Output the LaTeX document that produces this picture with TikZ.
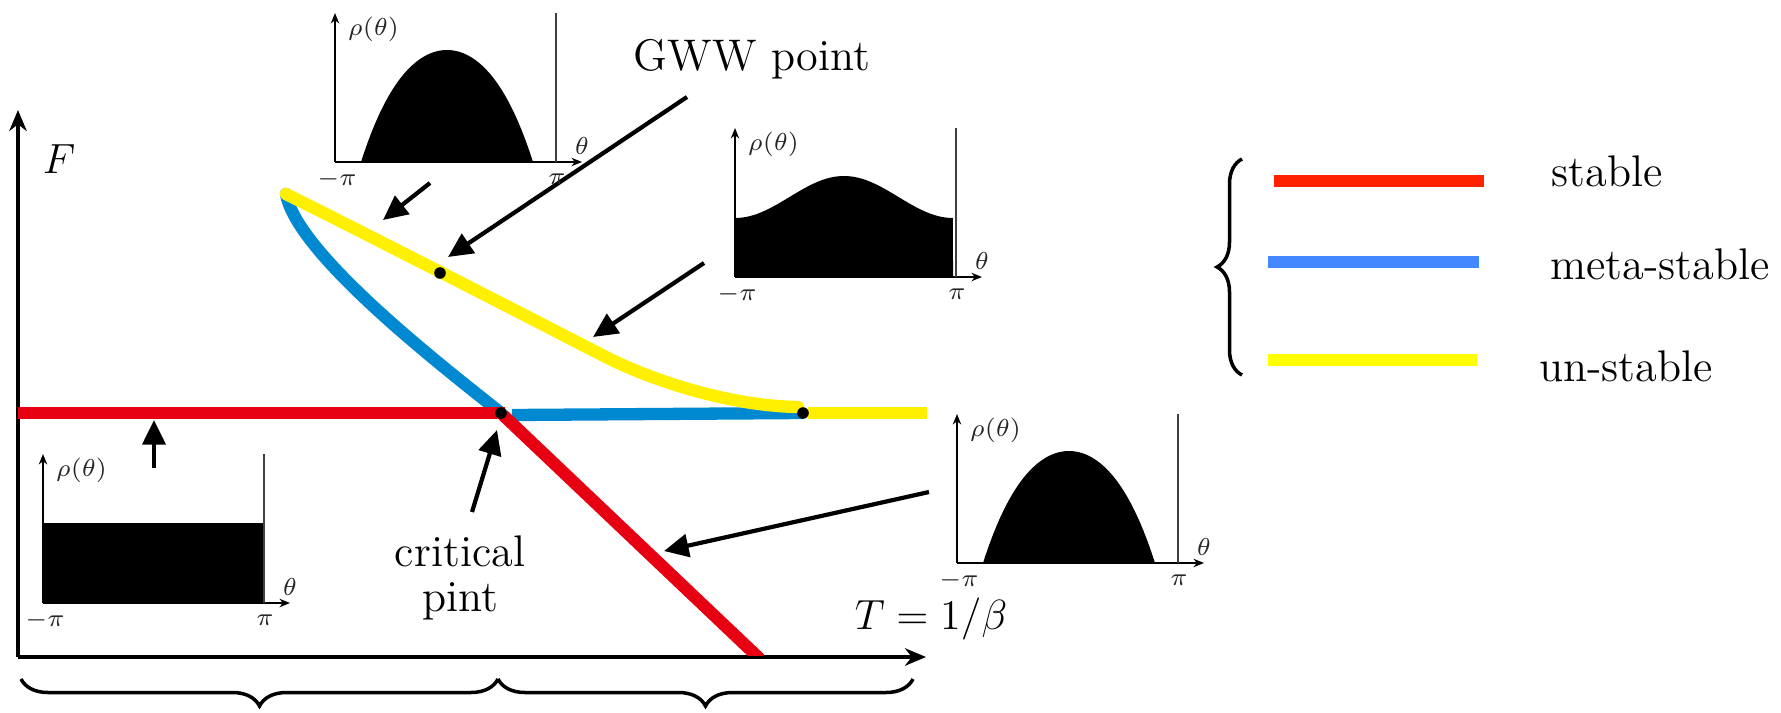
\documentclass[tikz,border=0pt]{standalone}
\usepackage{amssymb,amsmath}
\usepackage{tikz}
\usetikzlibrary{arrows.meta, calc, decorations.pathreplacing, positioning}
\definecolor{stabred}{RGB}{230,0,18}
\definecolor{metablue}{RGB}{0,136,209}
\definecolor{unstyellow}{RGB}{255,240,0}
\definecolor{legred}{RGB}{255,34,0}
\definecolor{legblue}{RGB}{68,136,255}
\definecolor{legyellow}{RGB}{255,255,0}
\tikzset{
  phase/.style={line width=3.5pt},
  pointer/.style={line width=1.2pt, -{Triangle[length=7pt,width=6.5pt]}},
  mainaxis/.style={line width=0.9pt, -{Stealth[length=6pt,width=5pt]}},
  insetaxis/.style={line width=0.45pt, -{Stealth[length=3pt,width=2.4pt]}},
  critdot/.style={circle, fill=black, inner sep=0pt, minimum size=3.3pt},
  bigtext/.style={font=\fontsize{12.6}{12.9}\selectfont},
  smalltext/.style={font=\fontsize{6.6}{7}\selectfont, text=black!85, inner sep=1pt},
  bracedeco/.style={decorate, line width=1pt},
}

\begin{document}
\begin{tikzpicture}
    \useasboundingbox (0,0) rectangle (17.81,7.12);
    % axes
    \coordinate (O) at (0.18,0.55);
    \coordinate (xend) at (9.26,0.55);
    \coordinate (yend) at (0.18,6.02);
    \draw[mainaxis] (O) -- (xend);
    \draw[mainaxis] (O) -- (yend);
    \node[bigtext] (Flab) at (0.59,5.53) {$F$};
    \node[bigtext] (Tlab) at (9.31,0.93) {$T=1/\beta$};
    % phases
    \coordinate (crit) at (5.01,2.99);
    \coordinate (tip) at (2.86,5.18);
    \coordinate (spin) at (8.03,2.99);
    \coordinate (gww) at (4.40,4.39);
    \draw[phase, metablue, line cap=round] (crit) .. controls (4.42,3.46) and (2.97,4.58) .. (tip);
    \draw[phase, metablue] (5.12,2.97) -- (spin);
    \draw[phase, unstyellow, line cap=round] (tip) .. controls (3.9,4.66) and (4.95,4.12) .. (6.0,3.58)
        .. controls (6.5,3.315) and (7.3,3.06) .. (7.98,3.05);
    \draw[phase, unstyellow] (8.08,2.99) -- (9.27,2.99);
    \draw[phase, stabred] (0.18,2.99) -- (5.05,2.99);
    \begin{scope}
        \clip (0,0.566) rectangle (10,3.5);
        \draw[phase, stabred] (5.03,2.97) -- (7.60,0.53);
    \end{scope}
    \foreach \p in {crit, gww, spin}
        \node[critdot] at (\p) {};
    % labels and pointers
    \node[bigtext] (gwwlab) at (7.52,6.53) {GWW point};
    \node[bigtext, align=center] (critlab) at (4.60,1.34) {critical\\pint};
    \coordinate (gwwtail) at (6.87,6.15);
    \coordinate (gwwhead) at (4.48,4.55);
    \coordinate (crittail) at (4.72,2.00);
    \coordinate (crithead) at (4.97,2.82);
    \draw[pointer] (gwwtail) -- (gwwhead);
    \draw[pointer] (crittail) -- (crithead);
    \foreach \a/\b/\c/\d in {4.30/5.29/3.83/4.92, 7.04/4.49/5.93/3.75, 9.29/2.20/6.64/1.61, 1.54/2.44/1.54/2.92}
        \draw[pointer] (\a,\b) -- (\c,\d);
    % densities
    \begin{scope}[shift={(3.35,5.50)}]
        \fill plot[domain=-1:1, samples=60] ({1.12+0.86*\x}, {1.12*(1-\x*\x)*(1+0.2*\x*\x)}) -- cycle;
    \end{scope}
    \begin{scope}[shift={(9.57,1.49)}]
        \fill plot[domain=-1:1, samples=60] ({1.12+0.86*\x}, {1.12*(1-\x*\x)*(1+0.2*\x*\x)}) -- cycle;
    \end{scope}
    \begin{scope}[shift={(7.35,4.35)}]
        \fill (0,0) -- plot[domain=0:2.18, samples=60] (\x, {0.80-0.21*cos(360*\x/2.18)}) -- (2.18,0) -- cycle;
    \end{scope}
    \begin{scope}[shift={(0.43,1.09)}]
        \fill (0,0) rectangle (2.22,0.80);
    \end{scope}
    \foreach \name/\ox/\oy in {gapA/3.35/5.50, ungap/7.35/4.35, unif/0.43/1.09, gapB/9.57/1.49} {
        \begin{scope}[shift={(\ox,\oy)}]
            \draw[insetaxis] (0,0) -- (2.47,0);
            \draw[insetaxis] (0,0) -- (0,1.49);
            \draw[line width=0.45pt, black!75] (2.21,0) -- (2.21,1.49);
            \node[smalltext, anchor=west] (\name-rho) at (0.09,1.33) {$\rho(\theta)$};
            \node[smalltext] (\name-th) at (2.47,0.16) {$\theta$};
            \node[smalltext] (\name-lo) at (0.02,-0.17) {$-\pi$};
            \node[smalltext] (\name-hi) at (2.22,-0.17) {$\pi$};
        \end{scope}
    }
    % legend
    \draw[bracedeco, decoration={brace, amplitude=0.25cm}] (12.42,3.37) -- (12.42,5.53);
    \draw[line width=3.6pt, legred] (12.74,5.31) -- (14.84,5.31);
    \draw[line width=3.6pt, legblue] (12.68,4.50) -- (14.79,4.50);
    \draw[line width=3.6pt, legyellow] (12.68,3.52) -- (14.77,3.52);
    \node[bigtext] (legstable) at (16.07,5.41) {stable};
    \node[bigtext] (legmeta) at (16.60,4.48) {meta-stable};
    \node[bigtext] (legunst) at (16.26,3.46) {un-stable};
    % temperature ranges
    \draw[bracedeco, decoration={brace, amplitude=0.27cm}] (4.98,0.33) -- (0.21,0.33);
    \draw[bracedeco, decoration={brace, amplitude=0.27cm}] (9.13,0.33) -- (4.98,0.33);
\end{tikzpicture}
\end{document}
